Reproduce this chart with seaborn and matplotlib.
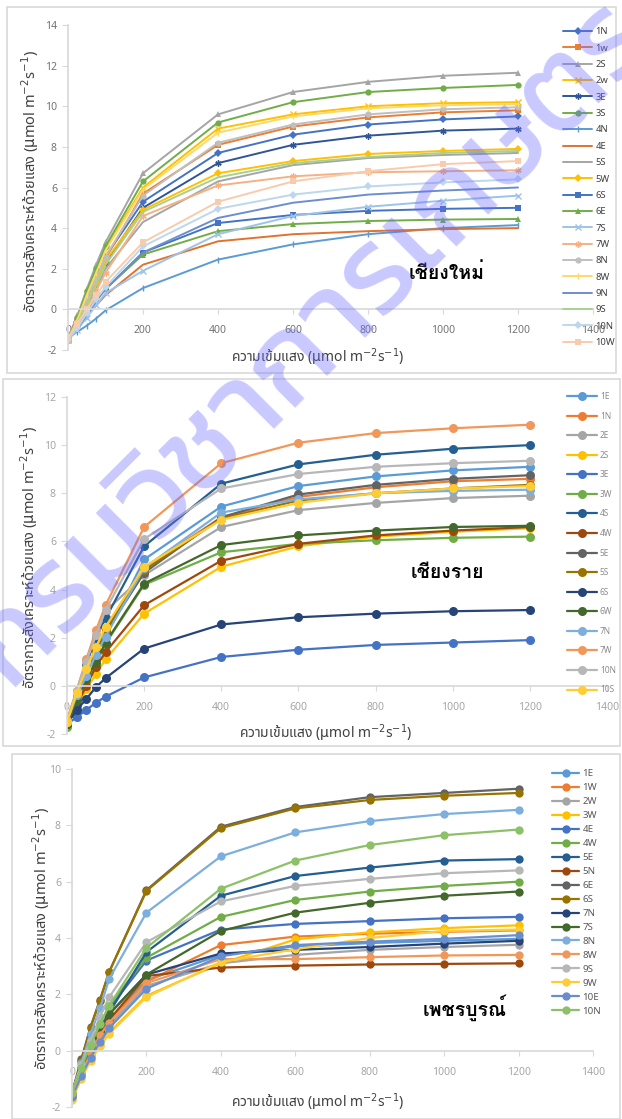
import matplotlib
matplotlib.use("Agg")

import matplotlib.pyplot as plt
import seaborn as sns
from matplotlib import font_manager
from matplotlib.ft2font import FT2Font
from matplotlib.patches import Rectangle

W, H = 622, 1119

LIGHT = [0, 25, 50, 75, 100, 200, 400, 600, 800, 1000, 1200]

# --- เชียงใหม่ ---
CM_NAMES = ["1N", "1w", "2S", "2w", "3E", "3S", "4N", "4E", "5S", "5W",
            "6S", "6E", "7S", "7W", "8N", "8W", "9N", "9S", "10N", "10W"]
CM_RATES = [
    [-1.5, -0.6, 0.5, 1.5, 2.6, 5.3, 7.7, 8.6, 9.1, 9.35, 9.5],
    [-1.5, -0.6, 0.4, 1.4, 2.5, 5.7, 8.1, 9.0, 9.45, 9.7, 9.8],
    [-1.4, -0.3, 1.0, 2.2, 3.3, 6.7, 9.6, 10.7, 11.2, 11.5, 11.65],
    [-1.5, -0.5, 0.8, 1.9, 3.0, 6.0, 8.9, 9.6, 10.0, 10.15, 10.2],
    [-1.5, -0.7, 0.3, 1.3, 2.3, 5.0, 7.2, 8.1, 8.55, 8.8, 8.9],
    [-1.5, -0.4, 0.9, 2.0, 3.1, 6.3, 9.2, 10.2, 10.7, 10.9, 11.05],
    [-1.4, -1.1, -0.8, -0.45, -0.05, 1.05, 2.45, 3.2, 3.7, 4.0, 4.15],
    [-1.5, -0.9, -0.3, 0.2, 0.7, 2.2, 3.35, 3.7, 3.85, 3.95, 4.0],
    [-1.5, -0.8, 0.1, 1.0, 2.0, 4.3, 6.3, 7.1, 7.45, 7.6, 7.7],
    [-1.5, -0.7, 0.3, 1.3, 2.4, 4.9, 6.7, 7.3, 7.65, 7.8, 7.9],
    [-1.5, -0.8, -0.1, 0.5, 1.0, 2.8, 4.25, 4.65, 4.85, 4.95, 5.0],
    [-1.5, -0.8, -0.1, 0.5, 1.0, 2.7, 3.85, 4.2, 4.35, 4.42, 4.45],
    [-1.5, -1.0, -0.4, 0.2, 0.8, 1.9, 3.7, 4.6, 5.05, 5.35, 5.6],
    [-1.5, -0.8, 0.0, 0.9, 1.8, 4.6, 6.1, 6.55, 6.75, 6.8, 6.85],
    [-1.5, -0.6, 0.5, 1.5, 2.6, 5.6, 8.2, 9.1, 9.6, 9.85, 9.95],
    [-1.5, -0.5, 0.7, 1.8, 2.9, 5.9, 8.7, 9.5, 9.9, 10.05, 10.1],
    [-1.5, -0.9, -0.3, 0.4, 1.0, 2.8, 4.5, 5.25, 5.65, 5.85, 6.0],
    [-1.5, -0.7, 0.3, 1.2, 2.2, 4.8, 6.5, 7.2, 7.5, 7.7, 7.8],
    [-1.5, -0.9, -0.2, 0.5, 1.1, 3.1, 4.95, 5.65, 6.05, 6.25, 6.4],
    [-1.4, -0.7, 0.0, 0.7, 1.35, 3.3, 5.3, 6.3, 6.8, 7.15, 7.3],
]
CM_COLORS = ["#4472C4", "#ED7D31", "#A5A5A5", "#FFC000", "#2F5597", "#70AD47",
             "#5B9BD5", "#E2722E", "#A5A5A5", "#FFC000", "#4472C4", "#70AD47",
             "#9DC3E6", "#F4B183", "#BFBFBF", "#FFD966", "#6C8ED0", "#A9D18E",
             "#BDD7EE", "#F8CBAD"]
CM_MARKERS = ["D", "s", "^", "x", (6, 2, 0), "o", "|", "", "", "D",
              "s", "^", "x", (6, 2, 0), "o", "|", "", "", "D", "s"]

# --- เชียงราย ---
CR_NAMES = ["1E", "1N", "2E", "2S", "3E", "3W", "4S", "4W", "5E", "5S",
            "6S", "6W", "7N", "7W", "10N", "10S"]
CR_RATES = [
    [-1.5, -0.4, 0.6, 1.3, 2.05, 5.25, 7.45, 8.3, 8.7, 8.95, 9.1],
    [-1.5, -0.4, 0.6, 1.6, 2.3, 4.9, 7.0, 7.85, 8.25, 8.5, 8.6],
    [-1.5, -0.2, 1.0, 2.1, 3.1, 4.6, 6.6, 7.3, 7.6, 7.8, 7.9],
    [-1.6, -0.9, -0.15, 0.5, 1.1, 3.0, 4.95, 5.8, 6.2, 6.4, 6.55],
    [-1.6, -1.3, -1.0, -0.7, -0.45, 0.35, 1.2, 1.5, 1.7, 1.8, 1.9],
    [-1.7, -0.6, 0.2, 0.9, 1.75, 4.2, 5.55, 5.9, 6.05, 6.15, 6.2],
    [-1.5, -0.3, 0.9, 2.0, 2.8, 5.8, 8.4, 9.2, 9.6, 9.85, 10.0],
    [-1.6, -0.8, 0.0, 0.8, 1.4, 3.35, 5.2, 5.9, 6.25, 6.45, 6.6],
    [-1.5, -0.4, 0.5, 1.4, 2.2, 4.7, 7.0, 7.95, 8.35, 8.6, 8.75],
    [-1.5, -0.4, 0.5, 1.5, 2.3, 4.8, 6.95, 7.7, 8.0, 8.2, 8.35],
    [-1.6, -1.0, -0.55, -0.05, 0.32, 1.55, 2.55, 2.85, 3.0, 3.1, 3.15],
    [-1.6, -0.6, 0.3, 1.0, 1.8, 4.25, 5.85, 6.25, 6.45, 6.6, 6.65],
    [-1.5, -0.4, 0.4, 1.3, 2.05, 4.9, 7.2, 7.75, 8.0, 8.1, 8.15],
    [-1.4, -0.2, 1.1, 2.3, 3.35, 6.6, 9.25, 10.1, 10.5, 10.7, 10.85],
    [-1.5, -0.2, 1.0, 2.1, 3.15, 6.1, 8.2, 8.8, 9.1, 9.25, 9.35],
    [-1.5, -0.3, 0.7, 1.6, 2.45, 4.95, 6.9, 7.6, 8.0, 8.2, 8.3],
]
CR_COLORS = ["#5B9BD5", "#ED7D31", "#A5A5A5", "#FFC000", "#4472C4", "#70AD47",
             "#255E91", "#9E480E", "#636363", "#997300", "#264478", "#43682B",
             "#7CAFDD", "#F1975A", "#B7B7B7", "#FFCD33"]

# --- เพชรบูรณ์ ---
PB_NAMES = ["1E", "1W", "2W", "3W", "4E", "4W", "5E", "5N", "6E", "6S",
            "7N", "7S", "8N", "8W", "9S", "9W", "10E", "10N"]
PB_RATES = [
    [-1.6, -0.8, -0.1, 0.5, 1.1, 2.5, 3.4, 3.7, 3.82, 3.9, 3.97],
    [-1.6, -0.8, -0.1, 0.6, 1.05, 2.45, 3.75, 4.05, 4.15, 4.22, 4.27],
    [-1.6, -0.85, -0.2, 0.4, 0.9, 2.3, 3.1, 3.4, 3.58, 3.68, 3.76],
    [-1.7, -0.95, -0.3, 0.2, 0.65, 1.95, 3.1, 3.95, 4.2, 4.35, 4.45],
    [-1.6, -0.65, 0.0, 0.75, 1.5, 3.2, 4.3, 4.5, 4.6, 4.7, 4.75],
    [-1.5, -0.6, 0.15, 0.9, 1.6, 3.3, 4.75, 5.35, 5.65, 5.85, 6.0],
    [-1.55, -0.65, 0.1, 0.85, 1.35, 3.5, 5.5, 6.2, 6.5, 6.75, 6.8],
    [-1.55, -0.75, -0.05, 0.6, 1.1, 2.65, 2.95, 3.02, 3.06, 3.08, 3.1],
    [-1.5, -0.3, 0.85, 1.8, 2.8, 5.7, 7.95, 8.65, 9.0, 9.15, 9.3],
    [-1.5, -0.35, 0.82, 1.78, 2.8, 5.67, 7.9, 8.6, 8.9, 9.05, 9.15],
    [-1.55, -0.7, 0.05, 0.7, 1.3, 2.7, 3.45, 3.58, 3.68, 3.8, 3.9],
    [-1.6, -0.7, 0.0, 0.7, 1.3, 2.7, 4.25, 4.9, 5.25, 5.5, 5.65],
    [-1.55, -0.45, 0.6, 1.5, 2.55, 4.9, 6.9, 7.75, 8.15, 8.4, 8.55],
    [-1.6, -0.8, -0.1, 0.55, 1.0, 2.4, 3.25, 3.25, 3.32, 3.38, 3.4],
    [-1.5, -0.5, 0.35, 1.2, 1.9, 3.85, 5.3, 5.85, 6.1, 6.3, 6.4],
    [-1.75, -1.0, -0.35, 0.15, 0.6, 1.9, 3.15, 3.6, 4.0, 4.25, 4.3],
    [-1.65, -0.9, -0.25, 0.3, 0.8, 2.2, 3.35, 3.75, 3.87, 3.97, 4.1],
    [-1.5, -0.6, 0.2, 0.95, 1.6, 3.65, 5.75, 6.75, 7.3, 7.65, 7.85],
]
PB_COLORS = ["#5B9BD5", "#ED7D31", "#A5A5A5", "#FFC000", "#4472C4", "#70AD47",
             "#255E91", "#9E480E", "#636363", "#997300", "#264478", "#43682B",
             "#7CAFDD", "#F1975A", "#B7B7B7", "#FFCD33", "#698ED0", "#8CC168"]

# the mu sits in math mode so it comes from DejaVu (Noto Sans Thai has no µ)
YLABEL = r"อัตราการสังเคราะห์ด้วยแสง ($\mathrm{\mu}$mol m$^{-2}$s$^{-1}$)"
XLABEL = r"ความเข้มแสง ($\mathrm{\mu}$mol m$^{-2}$s$^{-1}$)"
WATERMARK = "กรมวิชาการเกษตร"


def thai_families():
    found = []
    for entry in font_manager.fontManager.ttflist:
        try:
            cmap = FT2Font(entry.fname).get_charmap()
        except Exception:
            continue
        if 0x0E01 in cmap and entry.name not in found:
            found.append(entry.name)
    return found


def pick(found, wanted):
    for name in wanted:
        if name in found:
            return name
    return found[0] if found else "DejaVu Sans"


def px(x, y):
    return x / W, 1 - y / H


def rect(x0, y0, x1, y1):
    l, t = px(x0, y0)
    r, b = px(x1, y1)
    return [l, b, r - l, t - b]


sns.set_theme(style="white")
found = thai_families()
LABEL_FONT = pick(found, ["Noto Sans Thai", "Anuphan", "Sarabun", "Loma"])
REGION_FONT = pick(found, ["Loma", "Noto Sans Thai Looped", "Sarabun"])
MARK_FONT = pick(found, ["Kanit", "Prompt", "Mitr", "Noto Sans Thai", "Anuphan"])
plt.rcParams["font.family"] = [LABEL_FONT, "DejaVu Sans"]
plt.rcParams["mathtext.fontset"] = "dejavusans"

fig = plt.figure(figsize=(W / 100, H / 100), dpi=100)

panels = [
    dict(names=CM_NAMES, rates=CM_RATES, colors=CM_COLORS, markers=CM_MARKERS,
         ax=(68, 25, 593, 350), ylim=(-2, 14), box=(7, 7, 616, 373),
         tick="#737373", ms=4.5, lw=1.4, region="เชียงใหม่", region_xy=(447, 273),
         ylab_xy=(30, 181), xlab_xy=(318, 357),
         leg=dict(x=563, y=33, gap=16.8, fs=6.8, hl=29, color="#404040")),
    dict(names=CR_NAMES, rates=CR_RATES, colors=CR_COLORS, markers=["o"] * 16,
         ax=(67, 397, 607, 734), ylim=(-2, 12), box=(3, 379, 620, 746),
         tick="#A6A6A6", ms=6.5, lw=1.6, region="เชียงราย", region_xy=(447, 573),
         ylab_xy=(29, 557), xlab_xy=(326, 733),
         leg=dict(x=567, y=397, gap=18.9, fs=6.0, hl=30, color="#8C8C8C")),
    dict(names=PB_NAMES, rates=PB_RATES, colors=PB_COLORS, markers=["o"] * 18,
         ax=(72, 769, 593, 1107), ylim=(-2, 10), box=(12, 754, 620, 1119),
         tick="#A6A6A6", ms=6.0, lw=1.6, region="เพชรบูรณ์", region_xy=(465, 1008),
         ylab_xy=(41, 938), xlab_xy=(318, 1102),
         leg=dict(x=552, y=775, gap=14.7, fs=7.0, hl=27, color="#595959")),
]

for p in panels:
    bx = p["box"]
    fig.patches.append(Rectangle(px(bx[0], bx[3]), (bx[2] - bx[0]) / W, (bx[3] - bx[1]) / H,
                                 transform=fig.transFigure, fill=False,
                                 edgecolor="#D9D9D9", linewidth=1.2, zorder=0))
    ax = fig.add_axes(rect(*p["ax"]))
    ax.patch.set_alpha(0)
    for name, vals, col, mk in zip(p["names"], p["rates"], p["colors"], p["markers"]):
        line_art = mk in ("x", "|", (6, 2, 0))
        sns.lineplot(x=LIGHT, y=vals, ax=ax, color=col, marker=mk, markersize=p["ms"],
                     markeredgecolor=col, markeredgewidth=1.0 if line_art else 0,
                     linewidth=p["lw"], label=name, estimator=None, sort=False)
    lo, hi = p["ylim"]
    ax.set_xlim(0, 1400)
    ax.set_ylim(lo, hi)
    ax.set_xticks(range(0, 1401, 200))
    ax.set_yticks(range(lo, hi + 1, 2))
    ax.spines["top"].set_visible(False)
    ax.spines["right"].set_visible(False)
    ax.spines["bottom"].set_position(("data", 0))
    ax.spines["bottom"].set_color("#D9D9D9")
    ax.spines["left"].set_color("#D9D9D9")
    ax.tick_params(axis="y", colors="#D9D9D9", labelcolor=p["tick"], labelsize=7.5,
                   length=4, width=0.8, direction="out", pad=4, left=True)
    ax.tick_params(axis="x", colors="#D9D9D9", labelcolor=p["tick"], labelsize=7.5,
                   length=3.5, width=0.8, direction="out", pad=8, bottom=True)
    ax.set_xlabel("")
    ax.set_ylabel("")

    lg = p["leg"]
    handles, labels = ax.get_legend_handles_labels()
    fpx = lg["fs"] * 100 / 72
    ax.legend(handles, labels, loc="upper left",
              bbox_to_anchor=px(lg["x"], lg["y"] - fpx * 0.6), bbox_transform=fig.transFigure,
              frameon=False, fontsize=lg["fs"], labelcolor=lg["color"],
              handlelength=lg["hl"] / fpx, handletextpad=0.35,
              labelspacing=(lg["gap"] - fpx) / fpx, borderpad=0, borderaxespad=0)

    fig.text(*px(*p["ylab_xy"]), YLABEL, rotation=90, ha="center", va="center",
             fontsize=10.5, color="#404040")
    fig.text(*px(*p["xlab_xy"]), XLABEL, ha="center", va="center",
             fontsize=10, color="#404040")
    fig.text(*px(*p["region_xy"]), p["region"], ha="center", va="center",
             fontsize=14, fontweight="bold", color="#000000",
             family=[REGION_FONT, "DejaVu Sans"])

# watermark across the whole sheet
fig.text(*px(312, 345), WATERMARK, rotation=45, ha="center", va="center",
         fontsize=88, color="#6A6AFF", alpha=0.36, zorder=10,
         family=[MARK_FONT, "DejaVu Sans"])

fig.savefig("out.png", dpi=100)
